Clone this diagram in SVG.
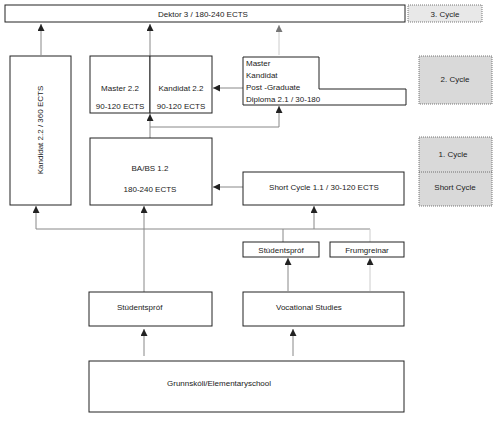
<svg xmlns="http://www.w3.org/2000/svg" width="500" height="421" viewBox="0 0 500 421">
<style>
.box{fill:#fff;stroke:#222;stroke-width:1}
.cyc{stroke:#555;stroke-width:0.8;stroke-dasharray:1 1}
text{font-family:"Liberation Sans",Arial,sans-serif;font-size:8px;fill:#222}
.c{text-anchor:middle}
.ln{fill:none;stroke:#888;stroke-width:1}
.lt{fill:none;stroke:#ccc;stroke-width:1}
</style>
<defs>
<marker id="ah" viewBox="0 0 10 10" refX="10" refY="5" markerWidth="7" markerHeight="7" markerUnits="userSpaceOnUse" orient="auto"><path d="M0,0L10,5L0,10z" fill="#222"/></marker>
<marker id="ahg" viewBox="0 0 10 10" refX="10" refY="5" markerWidth="7" markerHeight="7" markerUnits="userSpaceOnUse" orient="auto"><path d="M0,0L10,5L0,10z" fill="#777"/></marker>
</defs>
<rect width="500" height="421" fill="#fff"/>
<g id="connectors">
<path class="ln" d="M41,55V24" marker-end="url(#ah)"/>
<path class="ln" d="M150,55V24" marker-end="url(#ah)"/>
<path class="lt" d="M279,55V25" marker-end="url(#ahg)"/>
<path class="ln" d="M243,88H213" marker-end="url(#ah)"/>
<path class="ln" d="M150,138V114" marker-end="url(#ah)"/>
<path class="ln" d="M150,127H279V106" marker-end="url(#ah)"/>
<path class="ln" d="M243,187H213" marker-end="url(#ah)"/>
<path class="ln" d="M36,229H370"/>
<path class="ln" d="M36,229V206" marker-end="url(#ah)"/>
<path class="ln" d="M314,229V206" marker-end="url(#ah)"/>
<path class="ln" d="M283,229V242"/>
<path class="lt" d="M370,229V242"/>
<path class="ln" d="M144,292V206" marker-end="url(#ah)"/>
<path class="ln" d="M288,291V258" marker-end="url(#ah)"/>
<path class="lt" d="M370,291V258" marker-end="url(#ah)"/>
<path class="ln" d="M144,356V329" marker-end="url(#ah)"/>
<path class="ln" d="M293,356V329" marker-end="url(#ah)"/>
</g>
<g id="dektor"><rect class="box" x="5" y="5" width="400" height="17"/><text class="c" x="203" y="16.5">Dektor 3 / 180-240 ECTS</text></g>
<g id="cycle3"><rect class="cyc" x="408" y="5" width="74" height="17" fill="#e8e8e8"/><text class="c" x="445" y="16.5">3. Cycle</text></g>
<g id="kandidat360"><rect class="box" x="10" y="56" width="61" height="149"/><text class="c" transform="translate(43,130) rotate(-90)">Kandidat 2.2 / 360 ECTS</text></g>
<g id="master"><rect class="box" x="90" y="56" width="60" height="57"/><text class="c" x="120" y="91">Master 2.2</text><text class="c" x="120" y="109">90-120 ECTS</text></g>
<g id="kandidat"><rect class="box" x="150" y="56" width="62" height="57"/><text class="c" x="181" y="91">Kandidat 2.2</text><text class="c" x="181" y="109">90-120 ECTS</text></g>
<g id="diploma"><path class="box" d="M243,57H319V89H406V105H243Z"/><text x="246" y="65.5">Master</text><text x="246" y="77.5">Kandidat</text><text x="246" y="89.5">Post -Graduate</text><text x="246" y="101.5">Diploma 2.1 / 30-180</text></g>
<g id="cycle2"><rect class="cyc" x="419" y="56" width="73" height="48" fill="#d9d9d9"/><text class="c" x="455" y="82">2. Cycle</text></g>
<g id="ba"><rect class="box" x="90" y="138" width="122" height="67"/><text class="c" x="150" y="171">BA/BS 1.2</text><text class="c" x="150" y="192">180-240 ECTS</text></g>
<g id="shortcycle"><rect class="box" x="243" y="172" width="161" height="33"/><text class="c" x="324" y="189.5">Short Cycle 1.1 / 30-120 ECTS</text></g>
<g id="cycle1"><rect class="cyc" x="419" y="137" width="73" height="69" fill="#d9d9d9"/><path class="cyc" d="M419,172H492" fill="none"/><text class="c" x="453" y="156.5">1. Cycle</text><text class="c" x="455" y="189.5">Short Cycle</text></g>
<g id="studentsprof-small"><rect class="box" x="243" y="242" width="76" height="15"/><text class="c" x="281" y="252.5">Stúdentspróf</text></g>
<g id="frumgreinar"><rect class="box" x="330" y="242" width="74" height="15"/><text class="c" x="367" y="252.5">Frumgreinar</text></g>
<g id="studentsprof"><rect class="box" x="89" y="292" width="123" height="34"/><text x="117" y="309.5">Stúdentspróf</text></g>
<g id="vocational"><rect class="box" x="243" y="292" width="161" height="34"/><text x="276" y="309.5">Vocational Studies</text></g>
<g id="grunnskoli"><rect class="box" x="89" y="361" width="315" height="51"/><text x="167" y="386">Grunnskóli/Elementaryschool</text></g>
</svg>
